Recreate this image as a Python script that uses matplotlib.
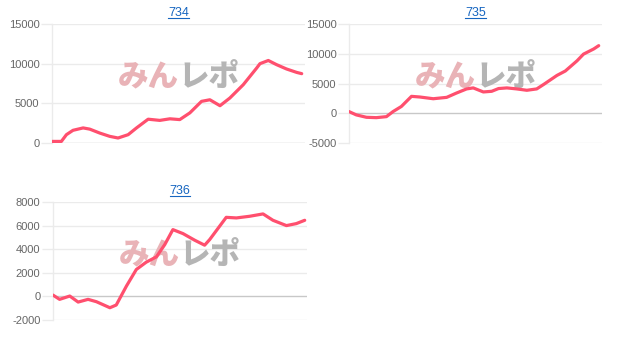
import matplotlib
matplotlib.use("Agg")
import matplotlib.pyplot as plt

# ---- data ----
x734 = [0, 3.7, 5.7, 8.3, 12.3, 14.9, 18.9, 22.8, 26.1, 30.1, 33.4, 38.0, 42.6, 46.6, 50.5, 54.5,
        59.1, 62.4, 66.4, 70.3, 75.6, 80.9, 82.2, 85.5, 88.8, 92.7, 96.7, 98.7]
y734 = [200, 200, 1050, 1600, 1900, 1750, 1250, 840, 630, 1050, 1900, 3000, 2850, 3050, 2950, 3800,
        5250, 5450, 4700, 5670, 7350, 9450, 10000, 10400, 9870, 9330, 8900, 8740]

x735 = [0, 2.9, 6.9, 10.8, 14.8, 17.4, 20.7, 24.7, 28.0, 33.3, 38.6, 42.5, 46.5, 49.1, 53.1, 56.4,
        59.1, 62.4, 66.3, 70.3, 74.2, 76.9, 82.2, 85.5, 90.1, 92.7, 96.7, 98.7]
y735 = [280, -280, -680, -740, -570, 280, 1140, 2840, 2730, 2440, 2670, 3400, 4090, 4260, 3580, 3690,
        4150, 4260, 4090, 3860, 4090, 4830, 6360, 7100, 8800, 9940, 10800, 11360]

x736 = [0, 2.6, 6.6, 9.9, 13.8, 17.1, 22.4, 24.9, 28.9, 32.8, 36.7, 40.7, 44.0, 47.2, 51.2, 55.8,
        59.7, 61.7, 68.2, 72.2, 77.4, 82.7, 86.6, 91.9, 95.8, 99.1]
y736 = [110, -250, 30, -480, -250, -450, -960, -730, 870, 2280, 2900, 3350, 4390, 5660, 5320, 4760,
        4340, 4820, 6700, 6650, 6790, 6990, 6450, 6000, 6170, 6450]

titles = ["734", "735", "736"]
yticks_list = [[0, 5000, 10000, 15000], [-5000, 0, 5000, 10000, 15000],
               [-2000, 0, 2000, 4000, 6000, 8000]]

LINE = "#ff4f6e"
GRID = "#ebebeb"
ZERO = "#c8c8c8"
TICK = "#666666"
WM_FAMILY = ["Noto Sans CJK JP", "DejaVu Sans"]

fig = plt.figure(figsize=(6.21, 3.43), dpi=100)
W, H = 621, 343

def add_ax(l, t, r, b):
    return fig.add_axes([l / W, 1 - b / H, (r - l) / W, (b - t) / H])

axes = [add_ax(52, 24, 305, 143), add_ax(349, 24, 602, 143), add_ax(53, 202, 307, 320)]
data = [(x734, y734), (x735, y735), (x736, y736)]

for ax, (xs, ys), title, yt in zip(axes, data, titles, yticks_list):
    ax.set_xlim(0, 100)
    ax.set_ylim(yt[0], yt[-1])
    ax.set_yticks(yt)
    ax.set_yticklabels([str(v) for v in yt])
    ax.set_xticks([])
    for s in ["top", "right", "bottom"]:
        ax.spines[s].set_visible(False)
    ax.spines["left"].set_color(GRID)
    ax.spines["left"].set_linewidth(1)
    ax.tick_params(axis="y", length=8, width=1, color=GRID, labelcolor=TICK,
                   labelsize=8, pad=1)
    for lab in ax.get_yticklabels():
        lab.set_family("Liberation Sans")
    for v in yt:
        ax.axhline(v, color=ZERO if v == 0 else GRID, lw=1, zorder=1)
    ax.set_facecolor("white")
    # watermark
    ax.text(0.50, 0.555, "みん", transform=ax.transAxes, ha="right", va="center",
            fontsize=22, fontweight="black", color="#e9b3b7",
            family=WM_FAMILY, zorder=2)
    ax.text(0.50, 0.555, "レポ", transform=ax.transAxes, ha="left", va="center",
            fontsize=22, fontweight="black", color="#b5b5b5",
            family=WM_FAMILY, zorder=2)
    ax.plot(xs, ys, color=LINE, lw=2.3, solid_capstyle="round", solid_joinstyle="round", zorder=3)
    ax.set_title(title, color="#1565c0", fontsize=9, pad=6, family="Liberation Sans")

fig.canvas.draw()
for ax in axes:
    bb = ax.title.get_window_extent()
    y = bb.y0 + 1
    fig.add_artist(plt.Line2D([bb.x0 / W, bb.x1 / W], [y / H, y / H],
                              transform=fig.transFigure, color="#1565c0", lw=0.8))

fig.savefig("out.png", dpi=100, facecolor="white")
